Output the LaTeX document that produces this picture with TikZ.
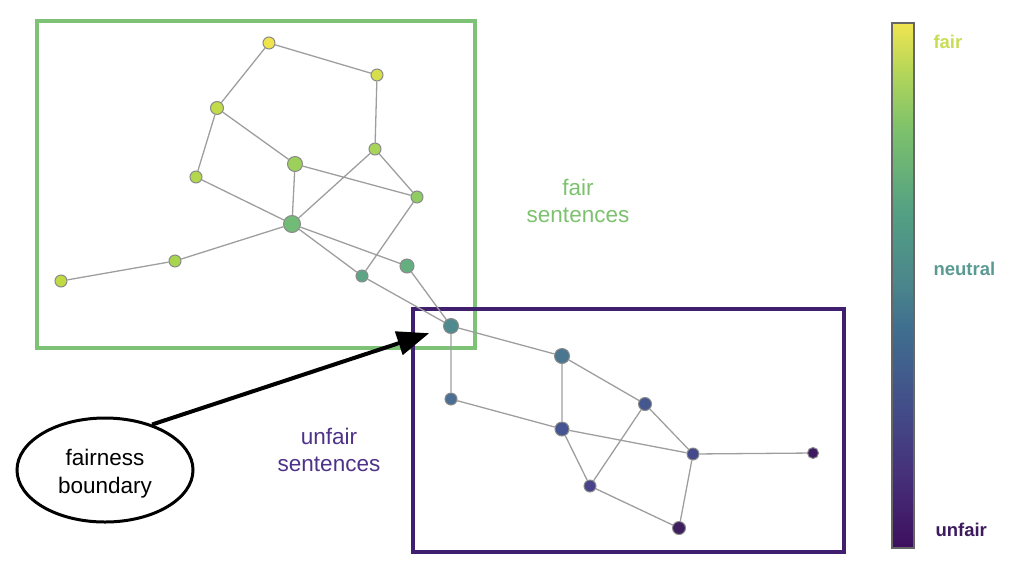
\documentclass[tikz,border=0pt]{standalone}
\usepackage{fontspec}
\setmainfont{Liberation Sans}
\usetikzlibrary{arrows.meta,shapes.geometric,backgrounds}
\definecolor{greenbox}{HTML}{7DC277}
\definecolor{purplebox}{HTML}{3F1F6E}
\definecolor{greentext}{HTML}{7CC26E}
\definecolor{purpletext}{HTML}{4E3288}
\definecolor{nodeborder}{HTML}{8A8A8A}
\definecolor{linkgray}{HTML}{9E9E9E}
\definecolor{cfair}{HTML}{C8DD52}
\definecolor{cneutral}{HTML}{5A9A93}
\definecolor{cunfair}{HTML}{3D1A5E}
% node colours
\definecolor{k1}{HTML}{F0E44C}
\definecolor{k2}{HTML}{D6DF4A}
\definecolor{k3}{HTML}{C2DB48}
\definecolor{k4}{HTML}{A9D45A}
\definecolor{k5}{HTML}{9CD05A}
\definecolor{k6}{HTML}{B3D84E}
\definecolor{k7}{HTML}{8FCC62}
\definecolor{k8}{HTML}{72BB77}
\definecolor{k9}{HTML}{A8D54E}
\definecolor{k10}{HTML}{C0DA42}
\definecolor{k11}{HTML}{65AE80}
\definecolor{k12}{HTML}{5EA585}
\definecolor{k13}{HTML}{4F8A8E}
\definecolor{k14}{HTML}{4A7690}
\definecolor{k15}{HTML}{4A6E94}
\definecolor{k16}{HTML}{45578F}
\definecolor{k17}{HTML}{465591}
\definecolor{k18}{HTML}{43498A}
\definecolor{k19}{HTML}{3E1A5F}
\definecolor{k20}{HTML}{48438A}
\definecolor{k21}{HTML}{3D1F5E}
% colour bar
\definecolor{v0}{HTML}{3E0F5E}
\definecolor{v1}{HTML}{46307A}
\definecolor{v2}{HTML}{42508A}
\definecolor{v3}{HTML}{3F6F8F}
\definecolor{v4}{HTML}{4A858C}
\definecolor{v5}{HTML}{53A083}
\definecolor{v6}{HTML}{7EC26B}
\definecolor{v7}{HTML}{B0D55A}
\definecolor{v8}{HTML}{F0E450}
\pgfdeclareverticalshading{viridisbar}{100bp}{color(0bp)=(v0); color(25bp)=(v0); color(32bp)=(v1); color(39bp)=(v2); color(46bp)=(v3); color(50bp)=(v4); color(57bp)=(v5); color(65bp)=(v6); color(70bp)=(v7); color(75bp)=(v8); color(100bp)=(v8)}
\begin{document}
\begin{tikzpicture}[x=1pt,y=-1pt,
  gnode/.style={circle,draw=nodeborder,line width=1pt,inner sep=0pt,minimum size=#1},
  link/.style={draw=linkgray,line width=1.3pt},
  box/.style={line width=3.5pt},
  lbl/.style={font=\fontsize{22.5}{27.5}\selectfont,align=center},
  barlbl/.style={font=\fontsize{18.5}{20}\selectfont\bfseries,anchor=west}
]
\useasboundingbox (0,0) rectangle (1024,571);
% nodes
\node[gnode=12,fill=k1] (n1) at (269,43) {};
\node[gnode=12,fill=k2] (n2) at (377,75) {};
\node[gnode=13,fill=k3] (n3) at (217,108) {};
\node[gnode=12,fill=k4] (n4) at (375,149) {};
\node[gnode=15,fill=k5] (n5) at (295,164) {};
\node[gnode=12,fill=k6] (n6) at (196,177) {};
\node[gnode=12,fill=k7] (n7) at (417,197) {};
\node[gnode=17,fill=k8] (n8) at (292,224) {};
\node[gnode=12,fill=k9] (n9) at (175,261) {};
\node[gnode=12,fill=k10] (n10) at (61,281) {};
\node[gnode=14,fill=k11] (n11) at (407,266) {};
\node[gnode=12,fill=k12] (n12) at (362,276) {};
\node[gnode=15,fill=k13] (n13) at (451,326) {};
\node[gnode=15,fill=k14] (n14) at (562,356) {};
\node[gnode=12,fill=k15] (n15) at (451,399) {};
\node[gnode=13,fill=k16] (n16) at (645,404) {};
\node[gnode=14,fill=k17] (n17) at (562,429) {};
\node[gnode=12,fill=k18] (n18) at (693,454) {};
\node[gnode=11,fill=k19] (n19) at (813,453) {};
\node[gnode=12,fill=k20] (n20) at (590,486) {};
\node[gnode=13,fill=k21] (n21) at (679,528) {};
\begin{scope}[on background layer]
% boxes
\draw[box,greenbox] (37,21) rectangle (475,348);
\draw[box,purplebox] (413,309) rectangle (844,552);
% links
\path[link] (n1) -- (n3) (n1) -- (n2) (n2) -- (n4) (n3) -- (n5) (n3) -- (n6)
  (n5) -- (n7) (n5) -- (n8) (n4) -- (n8) (n4) -- (n7) (n6) -- (n8)
  (n8) -- (n9) (n9) -- (n10) (n8) -- (n11) (n8) -- (n12) (n7) -- (n12)
  (n12) -- (n13) (n11) -- (n13)
  (n13) -- (n14) (n13) -- (n15) (n14) -- (n17) (n14) -- (n16) (n15) -- (n17)
  (n17) -- (n18) (n17) -- (n20) (n16) -- (n20) (n16) -- (n18) (n18) -- (n19)
  (n18) -- (n21) (n20) -- (n21);
\end{scope}
% labels
\node[lbl,text=greentext] (fairlbl) at (578,201) {fair\\sentences};
\node[lbl,text=purpletext] (unfairlbl) at (329,450) {unfair\\sentences};
% ellipse + arrow
\node[ellipse,draw=black,line width=3pt,minimum width=176pt,minimum height=104pt,inner sep=0pt] (fb) at (105,470) {};
\node[font=\fontsize{22.5}{28}\selectfont,align=center] (fbtext) at (105,474) {fairness\\boundary};
\draw[line width=4pt,-{Triangle[length=32pt,width=24pt]},shorten >=15pt] (fb.44) -- (n13);
% colour bar
\shade[shading=viridisbar] (892,23) rectangle (914,548);
\draw[line width=1.5pt,draw=gray!80!black] (892,23) rectangle (914,548);
\node[barlbl,text=cfair] (bfair) at (930,42) {fair};
\node[barlbl,text=cneutral] (bneutral) at (930,269) {neutral};
\node[barlbl,text=cunfair] (bunfair) at (932,530) {unfair};
\end{tikzpicture}
\end{document}
